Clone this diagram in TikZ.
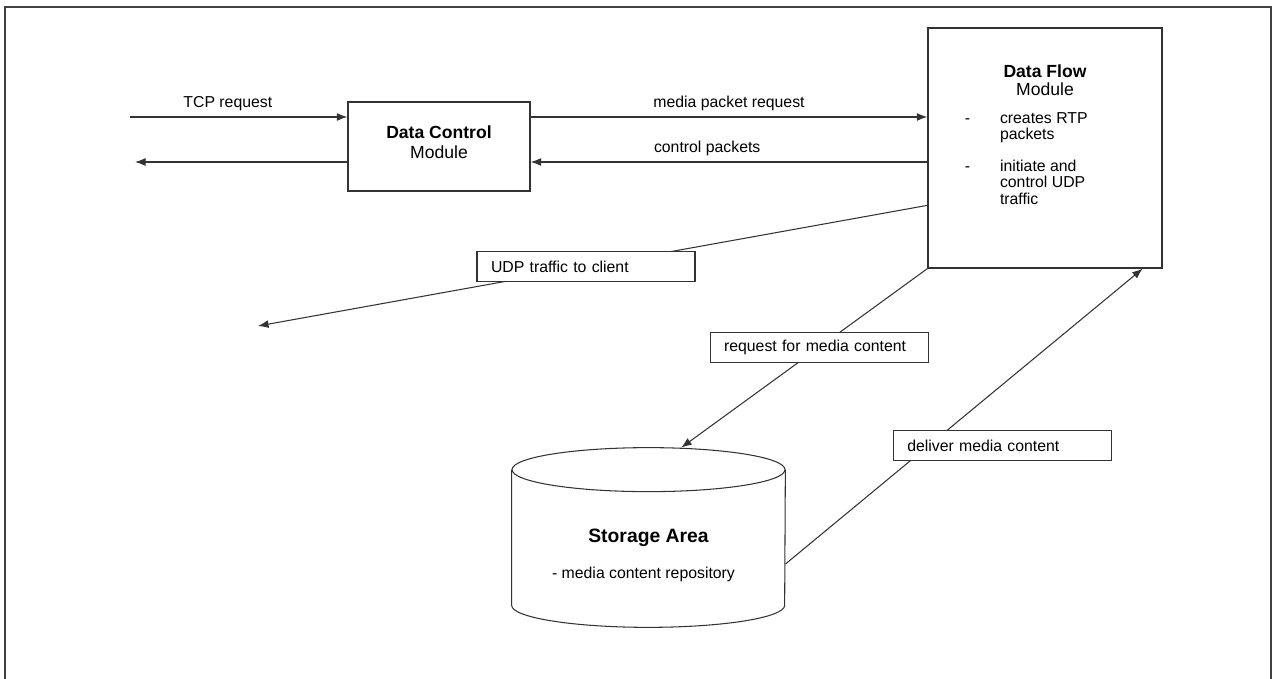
\documentclass[tikz,border=0pt]{standalone}
\usepackage{fontspec}
\setmainfont{Liberation Sans}
\usetikzlibrary{arrows.meta,positioning}
\begin{document}
\begin{tikzpicture}[
	module/.style={draw=black!80, line width=0.7pt},
	head/.style={align=center, inner sep=0pt, font=\fontsize{10}{11}\selectfont},
	txt/.style={font=\fontsize{9}{9.2}\selectfont},
	conn/.style={draw=black!80, line width=0.6pt},
	arr/.style={conn, -{Latex[length=6pt,width=4.5pt]}},
	lbl/.style={draw=black!80, line width=0.6pt, fill=white, text width=3.8cm, inner xsep=0.28cm, minimum height=0.6cm, align=left, font=\fontsize{9}{11}\selectfont}
	]
	\useasboundingbox (0,0) rectangle (25.58,13.58);
	\draw[black!75, line width=1.6pt] (0.1,0) -- (0.1,13.44) -- (25.42,13.44) -- (25.42,0);
	\node[module, minimum width=3.64cm, minimum height=1.78cm] (dc) at (8.78,10.65) {};
	\node[head, font=\fontsize{10}{11.5}\selectfont] (dchead) at ([yshift=0.08cm]dc.center) {\textbf{Data Control}\\Module};
	\node[module, minimum width=4.68cm, minimum height=4.8cm] (df) at (20.9,10.62) {};
	\node[head, below=0.74cm of df.north] (dfhead) {\textbf{Data Flow}\\[-1pt]Module};
	\node[txt, inner sep=0pt, below right=1.68cm and 0.74cm of df.north west] (dflist) {\begin{tabular}{@{}l@{\hspace{0.6cm}}l@{}}
		- & creates RTP\\
		  & packets\\[9pt]
		- & initiate and\\
		  & control UDP\\
		  & traffic
		\end{tabular}};
	\node[minimum width=5.46cm, minimum height=3.58cm, inner sep=0pt, font=\fontsize{11}{13}\selectfont\bfseries] (store) at (12.97,2.83) {Storage Area};
	\draw[conn] ([yshift=-0.44cm]store.north west) -- ([yshift=0.44cm]store.south west)
		arc[start angle=180, end angle=360, x radius=2.73cm, y radius=0.44cm] -- ([yshift=-0.44cm]store.north east);
	\draw[conn] ([yshift=-0.44cm]store.north) ellipse[x radius=2.73cm, y radius=0.44cm];
	\node[txt] (repo) at ([xshift=-0.1cm, yshift=-0.74cm]store.center) {- media content repository};
	\coordinate (tcpin) at (2.6,11.24);
	\coordinate (tcpout) at (2.7,10.34);
	\coordinate (client) at (5.16,7.06);
	\draw[arr] (tcpin) -- node[txt, above, pos=0.45] (tcplbl) {TCP request} (tcpin -| dc.west);
	\draw[arr] (tcpout -| dc.west) -- (tcpout);
	\draw[arr] (tcpin -| dc.east) -- node[txt, above] (mprlbl) {media packet request} (tcpin -| df.west);
	\draw[arr] (tcpout -| df.west) -- node[txt, above, pos=0.555] (cplbl) {control packets} (tcpout -| dc.east);
	\draw[arr] (df.206.8) -- node[lbl, pos=0.51] (udplbl) {UDP traffic to client} (client);
	\draw[arr] (df.south west) -- node[lbl, pos=0.44] (reqlbl) {request for media content} (store.70.6);
	\draw[arr] (store.-11.4) -- node[lbl, pos=0.4, xshift=1.48cm] (dellbl) {deliver media content} (df.-51.6);
\end{tikzpicture}
\end{document}
